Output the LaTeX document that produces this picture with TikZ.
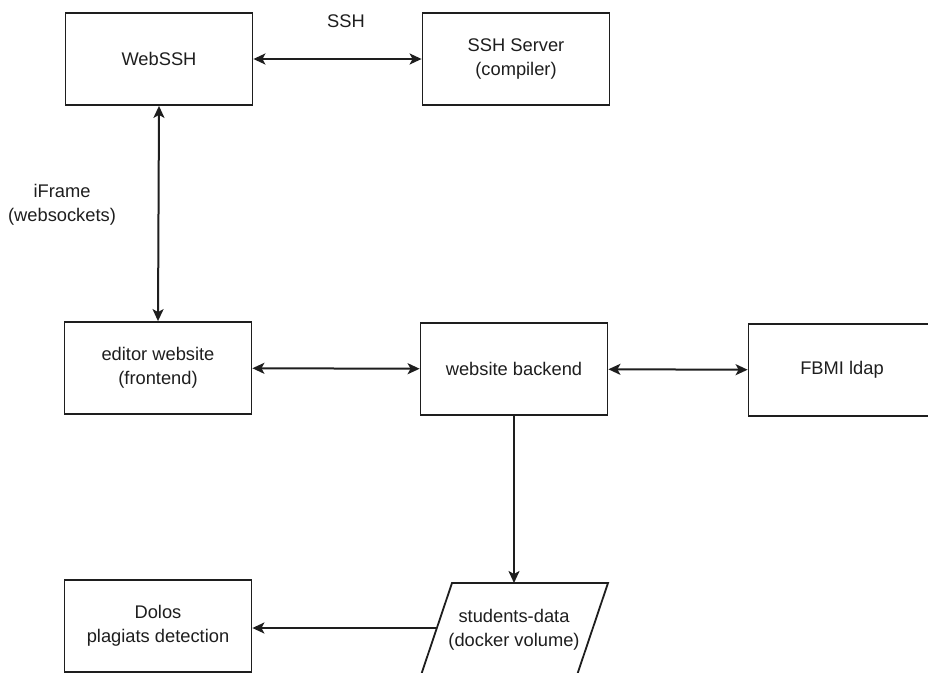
\documentclass[tikz,border=0pt]{standalone}
\usepackage{fontspec}
\setmainfont{Liberation Sans}
\usetikzlibrary{arrows.meta}
\definecolor{ink}{HTML}{1E1E1E}
\begin{document}
\begin{tikzpicture}[x=1pt,y=-1pt,
  txt/.style={align=center, text=ink, inner sep=0pt, font=\fontsize{18.3}{23.5}\selectfont},
  box/.style={txt, draw=ink, line width=1.8pt, minimum width=187pt, minimum height=92pt},
  tip/.tip={Stealth[length=12pt,width=11pt,inset=3pt]},
  conn/.style={draw=ink, line width=2pt},
  both/.style={conn, tip-tip},
  one/.style={conn, -tip}]
\useasboundingbox (0,0) rectangle (928,672);
\clip (0,0) rectangle (928,672);
\fill[white] (0,0) rectangle (928,672);

\node[box] (webssh) at (159,59) {WebSSH};
\node[box] (sshsrv) at (516,59) {SSH Server\\(compiler)};
\node[box] (editor) at (158,368) {editor website\\(frontend)};
\node[box] (backend) at (514,369) {website backend};
\node[box] (ldap) at (842,370) {FBMI ldap};
\node[box] (dolos) at (158,626) {Dolos\\plagiats detection};

% students-data parallelogram (cut off at the bottom)
\draw[draw=ink, line width=1.8pt, line join=miter] (452,583) -- (608,583) -- (572,690) -- (416,690) -- cycle;
\node[txt] (data) at (514,630) {students-data\\(docker volume)};
\coordinate (datatop) at (514,583);
\coordinate (dataleft) at (436,628);

\node[txt] (sshlbl) at (346,21) {SSH};
\node[txt] (iframe) at (62,205) {iFrame\\(websockets)};

\draw[both] (webssh) -- (sshsrv);
\draw[both] (webssh.south) -- (editor.north);
\draw[both] (editor) -- (backend);
\draw[both] (backend) -- (ldap);
\draw[one] (backend.south) -- (datatop);
\draw[one] (dataleft) -- (dolos.east |- dataleft);
\end{tikzpicture}
\end{document}
